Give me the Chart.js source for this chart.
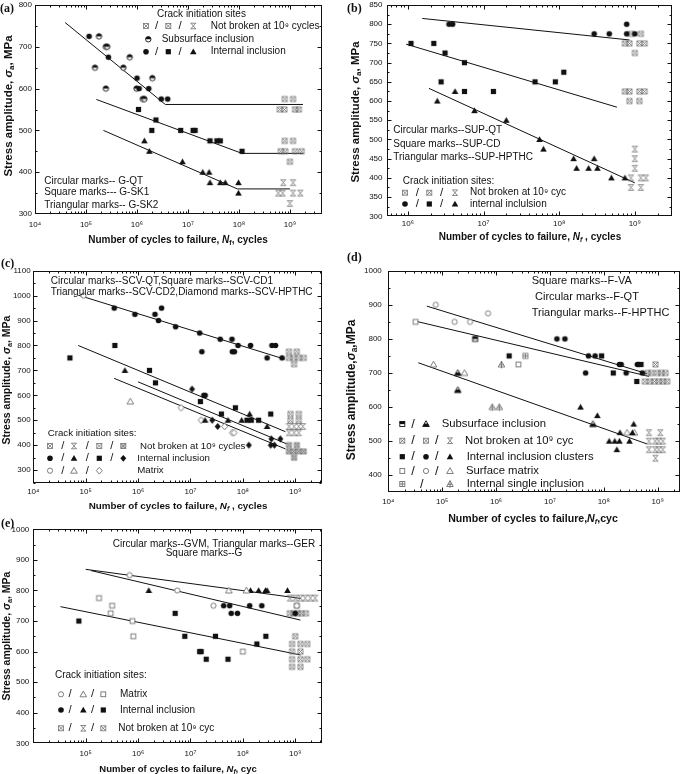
<!DOCTYPE html>
<html>
<head>
<meta charset="utf-8">
<script src="https://cdn.jsdelivr.net/npm/chart.js@4.4.1/dist/chart.umd.min.js"></script>
<style>
body { margin: 0; background: #fff; }
#wrap { position: relative; width: 685px; height: 774px; overflow: hidden; font-family: "Liberation Sans", Arial, sans-serif; color: #111; }
canvas { position: absolute; }
.t { position: absolute; white-space: nowrap; font-weight: bold; font-size: 10px; transform: translate(-50%, -50%); }
.t.v { transform: translate(-50%, -50%) rotate(-90deg); }
.p { position: absolute; font-family: "Liberation Serif", "Times New Roman", serif; font-weight: bold; font-size: 12px; transform: translateY(-50%); }
sub { font-size: 70%; vertical-align: -2px; line-height: 0; }
</style>
</head>
<body>
<div id="wrap">
  <canvas id="ca" width="340" height="250" style="left:0;top:0"></canvas>
  <canvas id="cb" width="345" height="250" style="left:340px;top:0"></canvas>
  <canvas id="cc" width="340" height="270" style="left:0;top:250px"></canvas>
  <canvas id="cd" width="340" height="275" style="left:345px;top:250px"></canvas>
  <canvas id="ce" width="340" height="254" style="left:0;top:520px"></canvas>

  <div class="p" style="left:0;top:8px">(a)</div>
  <div class="p" style="left:347px;top:8px">(b)</div>
  <div class="p" style="left:1px;top:263px">(c)</div>
  <div class="p" style="left:347px;top:257px">(d)</div>
  <div class="p" style="left:1px;top:523px">(e)</div>

  <div class="t" style="left:178px;top:238.5px">Number of cycles to failure, <i>N</i><sub>f</sub>, cycles</div>
  <div class="t" style="left:530px;top:236px">Number of cycles to failure, <i>N<sub>f</sub></i> , cycles</div>
  <div class="t" style="left:178px;top:504.5px;font-size:9.8px">Number of cycles to failure, <i>N<sub>f</sub></i> , cycles</div>
  <div class="t" style="left:533px;top:517.5px;font-size:10.6px">Number of cycles to failure,<i>N<sub>f</sub></i>,cyc</div>
  <div class="t" style="left:178px;top:768px;font-size:9.5px">Number of cycles to failure, <i>N<sub>f</sub></i>, cyc</div>

  <div class="t v" style="left:7.5px;top:106px;font-size:11.5px">Stress amplitude, <i>σ</i><sub>a</sub>, MPa</div>
  <div class="t v" style="left:355px;top:112px;font-size:11.5px">Stress amplitude, <i>σ</i><sub>a</sub>, MPa</div>
  <div class="t v" style="left:6px;top:380px;font-size:10.5px">Stress amplitude, <i>σ</i><sub>a</sub>, MPa</div>
  <div class="t v" style="left:351px;top:390px;font-size:12px">Stress amplitude,<i>σ</i><sub>a</sub>,MPa</div>
  <div class="t v" style="left:6px;top:636px;font-size:10.5px">Stress amplitude, <i>σ</i><sub>a</sub>, MPa</div>
</div>
<script>
// data: [cycles to failure, stress amplitude MPa]

// (a) G-QT / G-SK1 / G-SK2
const aQtInclusion = [[1.15e5,725],[2.75e5,675],[1.0e6,625],[1.1e6,600],[1.7e6,600],[3.0e6,575],[4.0e6,575]];
const aQtSubsurface = [[1.8e5,725],[1.5e5,650],[2.45e5,700],[2.6e5,700],[2.45e5,600],[5.4e5,650],[7.2e5,675],[9.8e5,600],[2.0e6,625],[1.3e6,575],[1.4e6,575]];
const aSk1Inclusion = [[1.07e6,550],[2.35e6,525],[1.95e6,500],[7.2e6,500],[1.26e7,500],[1.38e7,500],[2.7e7,475],[3.7e7,475],[4.3e7,475],[1.15e8,450]];
const aSk2Inclusion = [[1.4e6,475],[1.75e6,450],[7.8e6,425],[1.95e7,400],[2.6e7,400],[2.7e7,375],[4.3e7,375],[5.4e7,375],[9.8e7,375],[9.8e7,350]];
const aQtRunout = [[7.9e8,575],[1.15e9,575],[6.3e8,550],[7.8e8,550],[1.26e9,550],[1.5e9,550]];
const aSk1Runout = [[7.9e8,475],[1.15e9,475],[6.6e8,450],[8.1e8,450],[1.26e9,450],[1.7e9,450],[1.0e9,425]];
const aSk2Runout = [[7.4e8,375],[1.15e9,375],[5.9e8,350],[7.2e8,350],[1.15e9,350],[1.6e9,350],[1.0e9,325]];
const aQtFit = [[3.9e4,758],[3.6e6,562],[1.8e9,562]];
const aSk1Fit = [[1.6e5,574],[1.15e8,445],[1.8e9,445]];
const aSk2Fit = [[2.2e5,500],[9.3e7,360],[1.0e9,360]];

// (b) SUP-QT / SUP-CD / SUP-HPTHC
const bQtInclusion = [[3.5e6,800],[3.9e6,800],[2.9e8,775],[4.6e8,775],[7.8e8,800],[7.8e8,775],[1.0e9,775]];
const bCdInclusion = [[1.1e6,750],[2.2e6,750],[3.1e6,725],[2.75e6,650],[5.6e6,700],[5.6e6,625],[1.35e7,625],[4.8e7,650],[8.9e7,650],[1.15e8,675]];
const bHpInclusion = [[2.45e6,600],[4.2e6,625],[7.6e6,575],[2.0e7,550],[5.5e7,500],[6.2e7,475],[1.55e8,450],[2.9e8,450],[1.7e8,425],[2.45e8,425],[3.2e8,425],[4.9e8,400],[7.4e8,400]];
const bQtRunout = [[8.9e8,775],[1.2e9,775],[7.4e8,750],[8.5e8,750],[1.15e9,750],[1.35e9,750],[1.0e9,725]];
const bCdRunout = [[7.4e8,625],[8.5e8,625],[1.15e9,625],[1.35e9,625],[8.5e8,600],[1.15e9,600]];
const bHpRunout = [[1.0e9,475],[1.0e9,450],[1.0e9,425],[8.9e8,400],[1.2e9,400],[1.4e9,400],[8.9e8,375],[1.2e9,375]];
const bQtFit = [[1.55e6,815],[8.5e8,759]];
const bCdFit = [[9.5e5,748],[5.8e8,584]];
const bHpFit = [[1.9e6,633],[1.0e9,387]];

// (c) SCV-QT / SCV-CD1 / SCV-CD2 / SCV-HPTHC
const cQtInclusion = [[3.5e5,950],[8.7e5,925],[2.1e6,925],[2.45e6,900],[2.8e6,950],[5.2e6,875],[1.5e7,850],[1.65e7,775],[3.7e7,825],[6.2e7,825],[6.3e7,775],[6.9e7,775],[8.1e7,800],[1.4e8,800],[2.9e8,750],[3.6e8,800],[4.2e8,800],[5.6e8,750],[1.8e7,600],[1.9e7,600]];
const cQtMatrix = [[9.1e4,1000]];
const cCd1Inclusion = [[5.0e4,750],[3.6e5,800],[1.65e6,700],[2.15e6,650],[1.55e7,575],[7.2e7,550],[3.9e7,525],[3.4e8,525],[1.2e8,500],[1.45e8,500],[2.0e8,500]];
const cCd2Inclusion = [[5.6e5,700],[1.9e7,500],[5.2e7,500],[9.5e7,500],[1.35e8,525],[2.9e8,475]];
const cCd2Matrix = [[7.1e5,575]];
const cHpInclusion = [[1.07e7,625],[2.6e7,500],[3.3e7,475],[3.5e8,425],[5.2e8,425],[3.4e8,400],[4.0e8,400],[1.3e8,400]];
const cHpMatrix = [[6.6e6,550],[1.6e7,500],[4.5e7,475],[6.3e7,450],[6.8e7,450]];
const cQtRunout = [[7.6e8,775],[1.07e9,775],[7.6e8,750],[9.3e8,750],[1.17e9,750],[1.45e9,750],[9.5e8,725]];
const cCd1Runout = [[8.1e8,525],[1.17e9,525],[8.1e8,500],[1.17e9,500]];
const cCd2Runout = [[7.6e8,475],[9.5e8,475],[1.17e9,475],[1.4e9,475],[7.6e8,450],[9.5e8,450],[1.17e9,450]];
const cHpRunout = [[7.6e8,400],[1.07e9,400],[7.6e8,375],[9.3e8,375],[1.17e9,375],[1.45e9,375],[9.5e8,350]];
const cQtFit = [[7.2e4,1002],[6.3e8,745]];
const cCd1Fit = [[7.2e4,800],[6.5e8,454]];
const cCd2Fit = [[3.5e5,668],[6.5e8,385]];
const cHpFit = [[1.0e6,654],[6.9e8,405]];

// (d) F-VA / F-QT / F-HPTHC
const dVaInclusion = [[1.75e6,750],[9.1e7,750],[1.5e8,700],[4.9e8,725],[4.1e8,675]];
const dVaSubsurface = [[4.1e5,800]];
const dVaMatrix = [[3.2e4,850],[2.6e6,725]];
const dVaSingle = [[3.5e6,750]];
const dQtInclusion = [[1.35e7,800],[1.9e7,800],[5.2e7,750],[6.9e7,750],[1.95e8,725],[2.1e8,725],[4.2e8,725],[4.5e8,725],[4.6e7,700],[2.6e8,700],[5.2e8,700]];
const dQtMatrix = [[7.6e4,900],[1.7e5,850],[3.3e5,850],[7.1e5,875]];
const dHpInclusion = [[3.7e7,600],[7.6e7,575],[3.6e8,550],[2.0e8,525],[3.4e8,525],[1.26e8,500],[1.6e8,500],[1.95e8,500],[3.0e8,500],[1.75e8,475]];
const dHpSubsurface = [[1.95e5,700],[1.95e5,650],[6.3e7,550]];
const dHpMatrix = [[6.9e4,725],[2.6e5,700],[2.7e8,525],[3.7e8,525]];
const dHpSingle = [[1.26e6,725],[8.5e5,600],[1.15e6,600]];
const dQtRunout = [[9.1e8,725],[6.5e8,700],[7.6e8,700],[9.8e8,700],[1.17e9,700],[1.4e9,700]];
const dVaRunout = [[5.8e8,675],[7.2e8,675],[8.7e8,675],[1.05e9,675],[1.25e9,675],[1.5e9,675]];
const dHpRunout = [[6.9e8,525],[1.12e9,525],[6.9e8,500],[9.0e8,500],[1.05e9,500],[1.25e9,500],[6.9e8,475],[9.0e8,475],[1.05e9,475],[1.25e9,475],[9.1e8,450]];
const dQtFit = [[5.2e4,896],[6.3e8,698]];
const dVaFit = [[3.2e4,852],[6.9e8,690]];
const dHpFit = [[3.6e4,730],[6.3e8,492]];

// (e) GVM / GER / G
const eGvmMatrix = [[6.9e5,850],[5.6e6,800],[2.75e7,750],[1.07e9,750]];
const eGerMatrix = [[5.4e7,800],[1.17e8,800]];
const eGMatrix = [[1.8e5,775],[3.2e5,750],[3.0e5,725],[7.8e5,700],[8.1e5,650],[1.0e8,600]];
const eGvmInclusion = [[4.3e7,750],[5.6e7,750],[1.35e8,750],[2.3e8,750],[6.0e7,725],[7.9e7,725],[1.0e9,725]];
const eGerInclusion = [[1.6e6,800],[1.4e8,800],[2.0e8,800],[2.7e8,800],[2.9e8,800],[7.1e8,800]];
const eGInclusion = [[7.4e4,700],[5.1e6,725],[7.8e6,650],[1.5e7,600],[1.6e7,600],[2.0e7,575],[5.2e7,575],[3.0e7,650],[1.85e8,625],[2.75e8,650]];
const eGvmRunout = [[7.9e8,725],[9.3e8,725],[1.12e9,725],[1.3e9,725],[1.6e9,725]];
const eGerRunout = [[7.9e8,775],[1.0e9,775],[1.26e9,775],[1.55e9,775],[1.95e9,775],[2.4e9,775]];
const eGRunout = [[1.07e9,750],[1.0e9,650],[8.7e8,625],[1.26e9,625],[1.7e9,625],[8.7e8,600],[1.26e9,600],[8.7e8,575],[1.26e9,575],[1.7e9,575],[8.7e8,550],[1.26e9,550]];
const eGerFit = [[1.0e5,869],[1.26e9,774]];
const eGvmFit = [[1.26e5,865],[1.26e9,703]];
const eGFit = [[3.3e4,747],[1.26e9,589]];

// axis ticks
const aYTicks = [300,400,500,600,700,800];
const bYTicks = [300,350,400,450,500,550,600,650,700,750,800,850];
const cYTicks = [300,400,500,600,700,800,900,1000,1100];
const dYTicks = [400,500,600,700,800,900,1000];
const eYTicks = [300,400,500,600,700,800,900,1000];

// pick an installed Arial-like font
function pickFont() {
  const c = document.createElement('canvas').getContext('2d');
  const probe = 'mmmmmmmmmmlli WgQ 0123';
  const w = f => { c.font = '40px ' + f; return c.measureText(probe).width; };
  const base = [w('serif'), w('monospace')];
  for (const f of ['"Liberation Sans"', 'Arial', 'Arimo', 'Helvetica', '"Noto Sans"', 'Roboto', '"DejaVu Sans"']) {
    if (w(f + ', serif') !== base[0] || w(f + ', monospace') !== base[1]) return f + ', sans-serif';
  }
  return 'sans-serif';
}
const FONT = pickFont();
document.getElementById('wrap').style.fontFamily = FONT;
const SUP = {'0':'⁰','1':'¹','2':'²','3':'³','4':'⁴','5':'⁵','6':'⁶','7':'⁷','8':'⁸','9':'⁹'};

function drawMarker(c, kind, x, y) {
  const K = '#111', G = '#707070';
  c.save();
  c.lineWidth = 0.9; c.fillStyle = K; c.strokeStyle = K;
  const poly = pts => {
    c.beginPath();
    pts.forEach((p, i) => i ? c.lineTo(x + p[0], y + p[1]) : c.moveTo(x + p[0], y + p[1]));
    c.closePath();
  };
  const tri = [[0,-3.3],[3.3,2.5],[-3.3,2.5]];
  const dia = [[0,-3.4],[3,0],[0,3.4],[-3,0]];
  switch (kind) {
    case 'circle': c.beginPath(); c.arc(x, y, 2.8, 0, 7); c.fill(); break;
    case 'circleOpen': c.beginPath(); c.arc(x, y, 2.6, 0, 7); c.fillStyle = '#fff'; c.fill(); c.strokeStyle = G; c.stroke(); break;
    case 'circleHalf':
      c.beginPath(); c.arc(x, y, 2.7, 0, 7); c.fillStyle = '#fff'; c.fill();
      c.beginPath(); c.arc(x, y, 2.7, Math.PI, 2 * Math.PI); c.fillStyle = K; c.fill();
      c.beginPath(); c.arc(x, y, 2.7, 0, 7); c.stroke(); break;
    case 'square': c.fillRect(x - 2.6, y - 2.6, 5.2, 5.2); break;
    case 'squareOpen': c.fillStyle = '#fff'; c.fillRect(x - 2.4, y - 2.4, 4.8, 4.8); c.strokeStyle = G; c.strokeRect(x - 2.4, y - 2.4, 4.8, 4.8); break;
    case 'squareHalf': c.fillStyle = '#fff'; c.fillRect(x - 2.5, y - 2.5, 5, 5); c.fillStyle = K; c.fillRect(x - 2.5, y - 2.5, 5, 2.6); c.strokeRect(x - 2.5, y - 2.5, 5, 5); break;
    case 'squarePlus':
      c.strokeStyle = G; c.strokeRect(x - 2.5, y - 2.5, 5, 5);
      c.beginPath(); c.moveTo(x, y - 2.5); c.lineTo(x, y + 2.5); c.moveTo(x - 2.5, y); c.lineTo(x + 2.5, y); c.stroke(); break;
    case 'triangle': poly(tri); c.fill(); break;
    case 'triangleOpen': poly(tri); c.fillStyle = '#fff'; c.fill(); c.strokeStyle = G; c.stroke(); break;
    case 'triangleHalf':
      poly(tri); c.fillStyle = '#fff'; c.fill(); c.stroke();
      poly([[-1.7,-0.4],[1.7,-0.4],[3.3,2.5],[-3.3,2.5]]); c.fillStyle = K; c.fill(); break;
    case 'trianglePlus':
      c.strokeStyle = G; poly(tri); c.stroke();
      c.beginPath(); c.moveTo(x, y - 3.3); c.lineTo(x, y + 3.8); c.moveTo(x - 2.2, y + 0.4); c.lineTo(x + 2.2, y + 0.4); c.stroke(); break;
    case 'diamond': poly(dia); c.fill(); break;
    case 'diamondOpen': poly(dia); c.fillStyle = '#fff'; c.fill(); c.strokeStyle = G; c.stroke(); break;
    case 'nbBox':
    case 'nbDense':
      if (kind === 'nbDense') { c.fillStyle = '#c8c8c8'; c.fillRect(x - 2.5, y - 2.5, 5, 5); }
      c.strokeStyle = G; c.lineWidth = 0.8; c.strokeRect(x - 2.5, y - 2.5, 5, 5);
      c.beginPath(); c.moveTo(x - 2.5, y - 2.5); c.lineTo(x + 2.5, y + 2.5); c.moveTo(x + 2.5, y - 2.5); c.lineTo(x - 2.5, y + 2.5); c.stroke(); break;
    case 'nbBow':
      c.strokeStyle = G; c.lineWidth = 0.8; c.beginPath();
      c.moveTo(x - 2.8, y - 2.8); c.lineTo(x + 2.8, y - 2.8); c.moveTo(x - 2.8, y + 2.8); c.lineTo(x + 2.8, y + 2.8);
      c.moveTo(x - 2.3, y - 2.8); c.lineTo(x + 2.3, y + 2.8); c.moveTo(x + 2.3, y - 2.8); c.lineTo(x - 2.3, y + 2.8);
      c.stroke(); break;
  }
  c.restore();
}

function markerImage(kind) {
  const cv = document.createElement('canvas');
  cv.width = 11; cv.height = 11;
  drawMarker(cv.getContext('2d'), kind, 5.5, 5.5);
  return cv;
}

// legend helpers
const T = (x, y, s, size) => ({x, y, s, size});
const M = (x, y, mk) => ({x, y, mk});
function row(y, xs, kinds) {
  return xs.map((x, i) => kinds[i] === '/' ? {x, y, s: '/', center: true} : M(x, y, kinds[i]));
}

function decor(cfg) {
  return {
    id: 'decor',
    afterDraw(chart) {
      const {ctx, chartArea: a} = chart;
      const x = chart.scales.x, y = chart.scales.y;
      ctx.save();
      ctx.strokeStyle = '#111'; ctx.lineWidth = 1;
      const L = Math.round(a.left) + 0.5, R = Math.round(a.right) - 0.5;
      const Tp = Math.round(a.top) + 0.5, B = Math.round(a.bottom) - 0.5;
      ctx.strokeRect(L, Tp, R - L, B - Tp);
      ctx.beginPath();
      for (let e = Math.floor(Math.log10(x.min)); e <= Math.ceil(Math.log10(x.max)); e++) {
        for (let k = 1; k <= 9; k++) {
          const v = k * Math.pow(10, e);
          if (v <= x.min * 1.001 || v >= x.max * 0.999) continue;
          const px = Math.round(x.getPixelForValue(v)) + 0.5;
          const len = k === 1 ? 4 : 2;
          ctx.moveTo(px, B); ctx.lineTo(px, B - len);
          ctx.moveTo(px, Tp); ctx.lineTo(px, Tp + len);
        }
      }
      const step = (cfg.yTicks[1] - cfg.yTicks[0]) / 2;
      for (let v = Math.ceil(y.min / step) * step; v < y.max; v += step) {
        if (v <= y.min) continue;
        const py = Math.round(y.getPixelForValue(v)) + 0.5;
        const len = cfg.yTicks.includes(v) ? 4 : 2;
        ctx.moveTo(L, py); ctx.lineTo(L + len, py);
        ctx.moveTo(R, py); ctx.lineTo(R - len, py);
      }
      ctx.stroke();
      ctx.textBaseline = 'middle';
      cfg.notes.forEach(n => {
        if (n.mk) { drawMarker(ctx, n.mk, n.x, n.y); return; }
        ctx.fillStyle = '#111';
        ctx.font = (n.center ? cfg.fs + 1.5 : (n.size || cfg.fs)) + 'px ' + FONT;
        ctx.textAlign = n.center ? 'center' : 'left';
        ctx.fillText(n.s, n.x, n.y);
      });
      ctx.restore();
    }
  };
}

function panel(id, cfg) {
  const datasets = cfg.series.map(s => ({
    data: s[0].map(p => ({x: p[0], y: p[1]})),
    pointStyle: markerImage(s[1]), pointRadius: 3, showLine: false
  }));
  cfg.fits.forEach(f => datasets.push({
    data: f.map(p => ({x: p[0], y: p[1]})),
    showLine: true, pointRadius: 0, borderColor: '#111', borderWidth: 1, tension: 0
  }));
  new Chart(document.getElementById(id), {
    type: 'scatter',
    data: {datasets},
    options: {
      responsive: false, animation: false, devicePixelRatio: 1,
      layout: {padding: {left: 0, top: cfg.top, right: cfg.right, bottom: 0}},
      plugins: {legend: {display: false}, tooltip: {enabled: false}},
      scales: {
        x: {
          type: 'logarithmic', min: cfg.xMin, max: cfg.xMax,
          afterBuildTicks: s => { s.ticks = cfg.xExp.map(e => ({value: Math.pow(10, e)})); },
          afterFit: s => { s.height = cfg.xH; s.paddingLeft = 0; s.paddingRight = 0; },
          grid: {display: false, drawTicks: false}, border: {display: false},
          ticks: {
            autoSkip: false, maxRotation: 0, padding: cfg.xPad, color: '#111',
            font: {size: 8, family: FONT},
            callback: v => '10' + String(Math.round(Math.log10(v))).split('').map(d => SUP[d]).join('')
          }
        },
        y: {
          type: 'linear', min: cfg.yMin, max: cfg.yMax,
          afterBuildTicks: s => { s.ticks = cfg.yTicks.map(v => ({value: v})); },
          afterFit: s => { s.width = cfg.yW; s.paddingTop = 0; s.paddingBottom = 0; },
          grid: {display: false, drawTicks: false}, border: {display: false},
          ticks: {padding: cfg.yPad, color: '#111', font: {size: 8, family: FONT}, callback: v => String(v)}
        }
      }
    },
    plugins: [decor(cfg)]
  });
}

// (a)
panel('ca', {
  xMin: 1e4, xMax: 4.2e9, xExp: [4,5,6,7,8,9], yMin: 300, yMax: 800, yTicks: aYTicks,
  top: 4, right: 18.3, yW: 35, xH: 36, xPad: 6, yPad: 3, fs: 10,
  series: [[aQtInclusion,'circle'],[aQtSubsurface,'circleHalf'],[aSk1Inclusion,'square'],[aSk2Inclusion,'triangle'],
           [aQtRunout,'nbBox'],[aSk1Runout,'nbBox'],[aSk2Runout,'nbBow']],
  fits: [aQtFit, aSk1Fit, aSk2Fit],
  notes: [
    T(157,14,'Crack initiation sites'),
    ...row(26,[146,156.7,168.3,180,193.3],['nbBox','/','nbBox','/','nbBow']), T(210.7,26,'Not broken at 10⁹ cycles'),
    M(148.3,39.3,'circleHalf'), T(161.7,39.3,'Subsurface inclusion'),
    ...row(51.7,[146,156.7,168.3,180,193.3],['circle','/','square','/','triangle']), T(210.7,51.7,'Internal inclusion'),
    T(44.3,181,'Circular marks-- G-QT'), T(44.3,192.7,'Square marks--- G-SK1'), T(44.3,205,'Triangular marks-- G-SK2')
  ]
});

// (b)
panel('cb', {
  xMin: 5.3e5, xMax: 3.1e9, xExp: [6,7,8,9], yMin: 300, yMax: 850, yTicks: bYTicks,
  top: 5, right: 13, yW: 47, xH: 33.7, xPad: 3, yPad: 4.5, fs: 10,
  series: [[bQtInclusion,'circle'],[bCdInclusion,'square'],[bHpInclusion,'triangle'],
           [bQtRunout,'nbBox'],[bCdRunout,'nbBox'],[bHpRunout,'nbBow']],
  fits: [bQtFit, bCdFit, bHpFit],
  notes: [
    T(53.3,130.7,'Circular marks--SUP-QT'), T(53.3,144,'Square marks--SUP-CD'), T(53.3,157.5,'Triangular marks--SUP-HPTHC'),
    T(62.7,181.7,'Crack initiation sites:'),
    ...row(192.7,[65,77.3,89.3,101.7,115],['nbBox','/','nbBox','/','nbBow']), T(130,192.7,'Not broken at 10⁹ cyc'),
    ...row(204,[65,77.3,89.3,101.7,115],['circle','/','square','/','triangle']), T(130,204,'internal inclulsion')
  ]
});

// (c)
panel('cc', {
  xMin: 1e4, xMax: 3.2e9, xExp: [4,5,6,7,8,9], yMin: 247, yMax: 1100, yTicks: cYTicks,
  top: 20.7, right: 18.3, yW: 33.3, xH: 36.7, xPad: 4, yPad: 2.6, fs: 9.7,
  series: [[cQtInclusion,'circle'],[cQtMatrix,'circleOpen'],[cCd1Inclusion,'square'],[cCd2Inclusion,'triangle'],
           [cCd2Matrix,'triangleOpen'],[cHpInclusion,'diamond'],[cHpMatrix,'diamondOpen'],
           [cQtRunout,'nbBox'],[cCd1Runout,'nbBox'],[cCd2Runout,'nbBow'],[cHpRunout,'nbDense']],
  fits: [cQtFit, cCd1Fit, cCd2Fit, cHpFit],
  notes: [
    T(50.7,31.7,'Circular marks--SCV-QT,Square marks--SCV-CD1',10),
    T(50.7,42.7,'Triangular marks--SCV-CD2,Diamond marks--SCV-HPTHC',10),
    T(47.7,183.3,'Crack initiation sites:'),
    ...row(196,[50,62.7,74,87.3,99.3,111.7,123.3],['nbBox','/','nbBow','/','nbBox','/','nbDense']), T(140,196,'Not broken at 10⁹ cycles'),
    ...row(208.3,[50,62.7,74,87.3,99.3,111.7,123.3],['circle','/','triangle','/','square','/','diamond']), T(137.3,208.3,'Internal inclusion'),
    ...row(220.7,[50,62.7,74,87.3,99.3],['circleOpen','/','triangleOpen','/','diamondOpen']), T(137.3,220.7,'Matrix')
  ]
});

// (d)
panel('cd', {
  xMin: 1e4, xMax: 2.6e9, xExp: [4,5,6,7,8,9], yMin: 350, yMax: 1000, yTicks: dYTicks,
  top: 20.7, right: 1.7, yW: 43.3, xH: 32.7, xPad: 5, yPad: 6.5, fs: 11.3,
  series: [[dVaInclusion,'square'],[dVaSubsurface,'squareHalf'],[dVaMatrix,'squareOpen'],[dVaSingle,'squarePlus'],
           [dQtInclusion,'circle'],[dQtMatrix,'circleOpen'],
           [dHpInclusion,'triangle'],[dHpSubsurface,'triangleHalf'],[dHpMatrix,'triangleOpen'],[dHpSingle,'trianglePlus'],
           [dQtRunout,'nbBox'],[dVaRunout,'nbBox'],[dHpRunout,'nbBow']],
  fits: [dQtFit, dVaFit, dHpFit],
  notes: [
    T(186.7,30.7,'Square marks--F-VA',11), T(190,47.3,'Circular marks--F-QT',11), T(186.7,63.3,'Triangular marks--F-HPTHC',11),
    ...row(174,[57.3,68,81],['squareHalf','/','triangleHalf']), T(96.7,174,'Subsurface inclusion'),
    ...row(190.7,[57.3,68,81,91.7,105],['nbBox','/','nbBox','/','nbBow']), T(120,190.7,'Not broken at 10⁹ cyc'),
    ...row(206.7,[57.3,68,81,91.7,105],['square','/','circle','/','triangle']), T(121.7,206.7,'Internal inclusion clusters'),
    ...row(221,[57.3,68,81,91.7,105],['squareOpen','/','circleOpen','/','triangleOpen']), T(121,221,'Surface matrix'),
    ...row(234,[57.3,76.7,105],['squarePlus','/','trianglePlus']), T(121.7,234,'Internal single inclusion')
  ]
});

// (e)
panel('ce', {
  xMin: 1e4, xMax: 3.2e9, xExp: [5,6,7,8,9], yMin: 300, yMax: 1000, yTicks: eYTicks,
  top: 9.3, right: 18.3, yW: 33.3, xH: 30.7, xPad: 6, yPad: 4, fs: 10,
  series: [[eGvmMatrix,'circleOpen'],[eGerMatrix,'triangleOpen'],[eGMatrix,'squareOpen'],
           [eGvmInclusion,'circle'],[eGerInclusion,'triangle'],[eGInclusion,'square'],
           [eGvmRunout,'nbBox'],[eGerRunout,'nbBow'],[eGRunout,'nbBox']],
  fits: [eGerFit, eGvmFit, eGFit],
  notes: [
    T(112.7,24,'Circular marks--GVM, Triangular marks--GER'), T(165.7,33.3,'Square marks--G'),
    T(55,155.7,'Crack initiation sites:'),
    ...row(174.3,[61,70,83.3,92.7,103.3],['circleOpen','/','triangleOpen','/','squareOpen']), T(120,174.3,'Matrix'),
    ...row(190,[61,70,83.3,92.7,103.3],['circle','/','triangle','/','square']), T(120,190,'Internal inclusion'),
    ...row(208.3,[61,70,83.3,92.7,103.3],['nbBox','/','nbBow','/','nbBox']), T(118.3,208.3,'Not broken at 10⁹ cyc')
  ]
});
</script>
</body>
</html>
